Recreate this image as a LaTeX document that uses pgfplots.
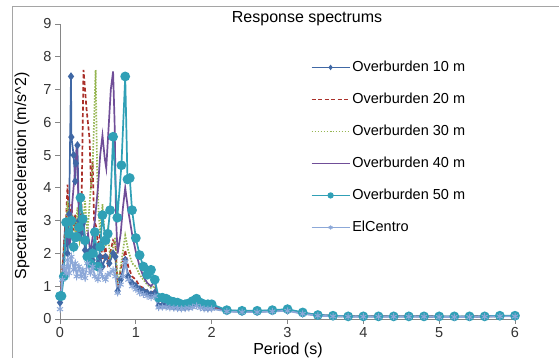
\documentclass[border=0pt]{standalone}
\usepackage{fontspec}
\setmainfont{Liberation Sans}
\usepackage{pgfplots}
\pgfplotsset{compat=1.18}
\definecolor{cA}{RGB}{64,104,165}
\definecolor{cB}{RGB}{170,48,42}
\definecolor{cC}{RGB}{150,182,82}
\definecolor{cD}{RGB}{112,78,152}
\definecolor{cE}{RGB}{48,160,182}
\definecolor{cF}{RGB}{140,168,216}
\definecolor{axgray}{RGB}{134,134,134}
\definecolor{framegray}{RGB}{165,165,165}
\begin{document}
\begin{tikzpicture}[x=1pt,y=1pt]
\useasboundingbox (0,0) rectangle (559,358);
\draw[framegray, line width=0.8pt] (12,-5) -- (12,352) -- (570,352);
\begin{axis}[
  at={(60pt,39pt)}, anchor=south west,
  scale only axis, width=455pt, height=295pt,
  xmin=0, xmax=6, ymin=0, ymax=9,
  axis lines=left, axis line style={-, axgray, line width=0.8pt},
  xtick={0,1,2,3,4,5,6}, ytick={0,1,...,9},
  tick align=outside, major tick length=5pt,
  tick style={axgray, line width=0.8pt},
  xtick pos=bottom, ytick pos=left,
  /pgf/number format/assume math mode=true,
  ticklabel style={font=\fontsize{14.5}{17}\selectfont, text=black!80},
  clip=false,
  title={Response spectrums},
  every axis title/.style={at={(axis description cs:0.543,1.017)}, anchor=center, font=\fontsize{16}{19}\selectfont},
  xlabel={Period (s)},
  ylabel={Spectral acceleration (m/s\textasciicircum 2)},
  every axis x label/.style={at={(axis description cs:0.501,-0.105)}, anchor=center, font=\fontsize{16}{19}\selectfont},
  every axis y label/.style={at={(axis description cs:-0.0835,0.485)}, anchor=center, rotate=90, font=\fontsize{16}{19}\selectfont},
  legend image code/.code={\draw[mark repeat=2,mark phase=2,#1, line width=1.4pt, every mark/.append style={scale=0.6}] plot coordinates {(0pt,0pt) (19pt,0pt) (38pt,0pt)};},
  legend style={at={(axis description cs:0.551,0.884)}, anchor=north west, draw=none, fill=none, inner sep=0pt,
    row sep=14pt, font=\fontsize{14.5}{17}\selectfont,
    nodes={inner sep=2pt, text height=11pt, text depth=3pt}},
  legend cell align=left,
]
% Overburden 10 m
\addplot[cA, line width=1.7pt, mark=diamond*, mark size=2.8pt, mark options={solid}] coordinates {
(0,0.5)(0.03,1.3)(0.07,2.95)(0.10,2.0)(0.12,3.2)(0.145,7.4)(0.15,5.55)(0.18,5.0)(0.20,4.2)(0.21,4.75)(0.23,5.3)(0.25,3.0)(0.27,2.6)(0.30,2.9)(0.33,2.1)(0.36,2.0)(0.40,2.1)(0.43,1.8)(0.46,2.2)(0.50,1.7)(0.53,1.9)(0.56,1.6)(0.60,1.9)(0.65,1.7)(0.70,2.0)(0.73,1.9)(0.76,0.85)(0.80,1.2)(0.86,1.8)(0.90,1.3)(0.95,1.1)(1.00,1.0)(1.05,0.9)(1.10,0.85)(1.15,0.8)(1.20,0.75)(1.25,0.8)(1.30,0.4)
(1.35,0.42)(1.40,0.42)(1.45,0.4)(1.50,0.38)(1.55,0.36)(1.60,0.35)(1.65,0.36)(1.70,0.38)(1.75,0.42)(1.80,0.47)(1.85,0.4)(1.90,0.36)(1.95,0.34)(2.00,0.36)
(2.2,0.24)(2.4,0.22)(2.6,0.22)(2.8,0.24)(3.0,0.26)(3.2,0.17)(3.4,0.11)(3.6,0.09)(3.8,0.08)(4.0,0.08)(4.2,0.08)(4.4,0.08)(4.6,0.08)(4.8,0.08)(5.0,0.07)(5.2,0.07)(5.4,0.07)(5.6,0.08)(5.8,0.09)(6.0,0.09)};
\addlegendentry{Overburden 10 m}
% Overburden 20 m
\addplot[cB, line width=1.7pt, dash pattern=on 4pt off 2.5pt] coordinates {
(0,0.5)(0.03,1.5)(0.06,2.5)(0.08,3.0)(0.10,4.1)(0.12,2.4)(0.15,3.5)(0.18,2.7)(0.20,3.2)(0.23,2.5)(0.26,3.6)(0.28,2.8)(0.31,7.6)(0.35,6.4)(0.39,5.5)(0.41,4.0)(0.43,4.8)(0.45,3.0)(0.48,2.8)(0.50,2.2)(0.53,2.6)(0.56,1.8)(0.60,2.2)(0.63,1.7)(0.66,2.0)(0.70,2.4)(0.73,2.3)(0.76,1.0)(0.80,1.5)(0.86,2.1)(0.90,1.6)(0.95,1.3)(1.00,1.2)(1.05,1.0)(1.10,0.95)(1.15,0.85)(1.20,0.8)(1.25,0.85)(1.30,0.42)
(1.35,0.44)(1.40,0.44)(1.45,0.41)(1.50,0.39)(1.55,0.37)(1.60,0.36)(1.65,0.37)(1.70,0.39)(1.75,0.44)(1.80,0.49)(1.85,0.41)(1.90,0.37)(1.95,0.35)(2.00,0.37)
(2.2,0.25)(2.4,0.23)(2.6,0.23)(2.8,0.25)(3.0,0.27)(3.2,0.18)(3.4,0.11)(3.6,0.09)(3.8,0.08)(4.0,0.08)(4.2,0.08)(4.4,0.08)(4.6,0.08)(4.8,0.08)(5.0,0.07)(5.2,0.07)(5.4,0.07)(5.6,0.08)(5.8,0.09)(6.0,0.09)};
\addlegendentry{Overburden 20 m}
% Overburden 30 m
\addplot[cC, line width=1.7pt, dash pattern=on 1.5pt off 1.5pt] coordinates {
(0,0.5)(0.03,1.4)(0.06,2.2)(0.10,3.6)(0.13,2.5)(0.16,3.2)(0.20,2.6)(0.23,3.4)(0.26,2.4)(0.30,2.9)(0.33,3.6)(0.36,2.6)(0.40,3.8)(0.43,4.6)(0.47,7.6)(0.49,4.5)(0.51,3.2)(0.53,2.6)(0.56,3.5)(0.60,2.2)(0.63,2.7)(0.66,1.9)(0.70,2.2)(0.73,2.5)(0.76,1.0)(0.80,1.6)(0.86,2.55)(0.90,2.1)(0.95,1.7)(1.00,1.6)(1.05,1.35)(1.10,1.2)(1.15,1.05)(1.20,0.95)(1.25,1.0)(1.30,0.45)
(1.35,0.46)(1.40,0.46)(1.45,0.43)(1.50,0.41)(1.55,0.39)(1.60,0.37)(1.65,0.38)(1.70,0.41)(1.75,0.46)(1.80,0.52)(1.85,0.43)(1.90,0.39)(1.95,0.37)(2.00,0.39)
(2.2,0.25)(2.4,0.23)(2.6,0.23)(2.8,0.25)(3.0,0.27)(3.2,0.18)(3.4,0.11)(3.6,0.09)(3.8,0.08)(4.0,0.08)(4.2,0.08)(4.4,0.08)(4.6,0.08)(4.8,0.08)(5.0,0.07)(5.2,0.07)(5.4,0.07)(5.6,0.08)(5.8,0.09)(6.0,0.09)};
\addlegendentry{Overburden 30 m}
% Overburden 40 m
\addplot[cD, line width=1.7pt] coordinates {
(0,0.5)(0.03,1.2)(0.06,2.0)(0.10,2.8)(0.13,2.2)(0.16,3.5)(0.19,4.3)(0.22,5.3)(0.25,3.2)(0.28,2.5)(0.31,3.0)(0.34,2.2)(0.37,2.6)(0.40,2.0)(0.43,2.5)(0.46,3.0)(0.50,4.0)(0.53,5.0)(0.56,5.6)(0.59,4.9)(0.61,4.6)(0.64,5.8)(0.67,7.0)(0.70,7.55)(0.72,6.0)(0.74,3.0)(0.76,2.0)(0.80,2.6)(0.83,3.4)(0.86,4.0)(0.90,3.3)(0.95,2.6)(1.00,2.05)(1.05,1.6)(1.10,1.3)(1.15,1.1)(1.20,1.0)(1.25,1.15)(1.30,0.45)
(1.35,0.47)(1.40,0.47)(1.45,0.44)(1.50,0.42)(1.55,0.4)(1.60,0.38)(1.65,0.39)(1.70,0.42)(1.75,0.47)(1.80,0.53)(1.85,0.44)(1.90,0.4)(1.95,0.38)(2.00,0.4)
(2.2,0.26)(2.4,0.24)(2.6,0.24)(2.8,0.26)(3.0,0.28)(3.2,0.19)(3.4,0.12)(3.6,0.1)(3.8,0.08)(4.0,0.08)(4.2,0.08)(4.4,0.08)(4.6,0.08)(4.8,0.08)(5.0,0.07)(5.2,0.07)(5.4,0.07)(5.6,0.08)(5.8,0.09)(6.0,0.09)};
\addlegendentry{Overburden 40 m}
% Overburden 50 m
\addplot[cE, line width=1.7pt, mark=*, mark size=4pt, mark options={solid}] coordinates {
(0,0.7)(0.02,0.7)(0.05,1.3)(0.08,2.95)(0.12,2.6)(0.15,3.0)(0.18,2.2)(0.20,2.5)(0.22,2.5)(0.25,2.8)(0.27,3.7)(0.30,3.05)(0.33,2.4)(0.36,1.9)(0.40,1.7)(0.43,2.0)(0.46,2.65)(0.50,1.6)(0.53,2.2)(0.56,3.17)(0.60,2.4)(0.63,2.6)(0.66,3.32)(0.70,5.56)(0.756,3.09)(0.81,4.69)(0.86,7.4)(0.89,4.26)(0.92,4.3)(0.95,3.32)(1.00,2.47)(1.05,1.95)(1.10,1.6)(1.15,1.35)(1.20,1.5)(1.25,1.2)(1.30,0.65)
(1.35,0.65)(1.40,0.62)(1.45,0.55)(1.50,0.52)(1.55,0.5)(1.60,0.45)(1.65,0.45)(1.70,0.48)(1.75,0.55)(1.80,0.62)(1.85,0.5)(1.90,0.45)(1.95,0.45)(2.00,0.45)
(2.2,0.27)(2.4,0.25)(2.6,0.25)(2.8,0.27)(3.0,0.3)(3.2,0.2)(3.4,0.12)(3.6,0.1)(3.8,0.08)(4.0,0.08)(4.2,0.08)(4.4,0.08)(4.6,0.08)(4.8,0.08)(5.0,0.08)(5.2,0.08)(5.4,0.08)(5.6,0.08)(5.8,0.1)(6.0,0.1)};
\addlegendentry{Overburden 50 m}
% ElCentro
\addplot[cF, line width=1.7pt, mark=asterisk, mark size=3.5pt, mark options={solid, line width=1pt}] coordinates {
(0,0.3)(0.03,1.2)(0.05,1.6)(0.08,1.4)(0.10,1.8)(0.12,1.4)(0.15,1.9)(0.18,1.5)(0.20,1.7)(0.22,1.3)(0.25,1.6)(0.28,1.3)(0.30,1.5)(0.33,1.25)(0.36,1.7)(0.40,1.4)(0.43,1.6)(0.46,1.3)(0.50,1.2)(0.53,1.5)(0.56,1.3)(0.60,1.2)(0.63,1.35)(0.66,1.4)(0.70,1.5)(0.73,1.3)(0.76,0.8)(0.80,1.05)(0.83,1.3)(0.86,1.75)(0.90,1.2)(0.95,1.0)(1.00,0.9)(1.05,0.8)(1.10,0.75)(1.15,0.7)(1.20,0.65)(1.25,0.7)(1.30,0.35)
(1.35,0.36)(1.40,0.36)(1.45,0.34)(1.50,0.33)(1.55,0.32)(1.60,0.31)(1.65,0.32)(1.70,0.33)(1.75,0.36)(1.80,0.4)(1.85,0.34)(1.90,0.31)(1.95,0.3)(2.00,0.31)
(2.2,0.23)(2.4,0.21)(2.6,0.21)(2.8,0.23)(3.0,0.25)(3.2,0.16)(3.4,0.1)(3.6,0.08)(3.8,0.07)(4.0,0.07)(4.2,0.07)(4.4,0.07)(4.6,0.07)(4.8,0.07)(5.0,0.06)(5.2,0.06)(5.4,0.06)(5.6,0.07)(5.8,0.08)(6.0,0.08)};
\addlegendentry{ElCentro}
\end{axis}
\end{tikzpicture}
\end{document}
